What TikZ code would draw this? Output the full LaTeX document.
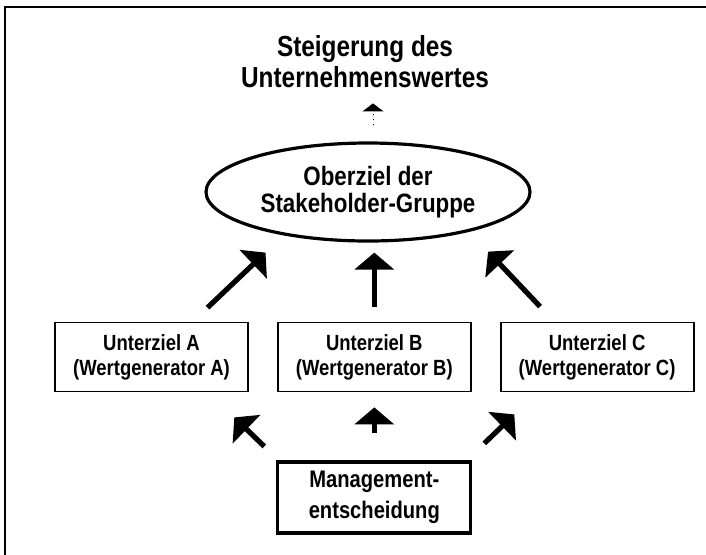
\documentclass[tikz,border=0pt]{standalone}
\usepackage{fontspec}
\setmainfont{Liberation Sans}[FakeStretch=0.84]
\usetikzlibrary{calc, positioning, arrows.meta, shapes.geometric}
\newlength\zielwidth
\setlength\zielwidth{96.5pt}
\newlength\zielheight
\setlength\zielheight{34.5pt}

\begin{document}
\begin{tikzpicture}[
    x=0.5pt, y=-0.5pt,
    ziel/.style = {
        draw=black,
        line width=0.9pt,
        minimum width=\zielwidth,
        minimum height=\zielheight,
        inner sep=0pt,
        align=center,
        font=\fontsize{11}{12.5}\selectfont\bfseries,
    },
    entscheidung/.style = {
        ziel,
        line width=1.6pt,
        minimum height=1.03\zielheight,
        font=\fontsize{12}{15.5}\selectfont\bfseries,
    },
    oberziel/.style = {
        ellipse,
        draw=black,
        line width=1.6pt,
        minimum width=162pt,
        minimum height=49pt,
        inner sep=0pt,
        align=center,
        font=\fontsize{13.3}{13.5}\selectfont\bfseries,
    },
    pfeil/.style = {
        -{Triangle[width=19.5pt, length=8.5pt]},
        draw=black,
        line width=2.6pt,
    },
    kleinpfeil/.style = {
        -{Triangle[width=10.5pt, length=4pt]},
        draw=black,
        line width=0.5pt,
        dotted,
    },
]
\useasboundingbox (0, 0) rectangle (706, 554);
\draw [line width=0.8pt] (5, 7) rectangle (720, 570);
\node [align=center, font=\fontsize{14.5}{15.5}\selectfont\bfseries] (wert) at (365, 62)
    {Steigerung des\\Unternehmenswertes};
\node [oberziel] (ober) at (368, 192) {Oberziel der\\Stakeholder-Gruppe};
\node [ziel] (zielA) at (151.5, 357) {Unterziel A\\(Wertgenerator A)};
\node [ziel, right=14pt of zielA] (zielB) {Unterziel B\\(Wertgenerator B)};
\node [ziel, right=14pt of zielB] (zielC) {Unterziel C\\(Wertgenerator C)};
\node [entscheidung, below=34pt of zielB] (mgmt) {Management-\\entscheidung};
\path [kleinpfeil] ([shift={(5, -16)}]ober.north) -- ++(0, -22);
\path [pfeil] ([shift={(56, -14)}]zielA.north) -- ++(58, -55);
\path [pfeil] ([shift={(0, -15)}]zielB.north) -- ++(0, -54);
\path [pfeil] ([shift={(-57, -15)}]zielC.north) -- ++(-52, -55);
\path [pfeil] ([shift={(-110, -14)}]mgmt.north) -- ++(-30, -29);
\path [pfeil] ([shift={(0, -27)}]mgmt.north) -- ++(0, -26);
\path [pfeil] ([shift={(110, -17)}]mgmt.north) -- ++(30, -29);
\end{tikzpicture}
\end{document}
